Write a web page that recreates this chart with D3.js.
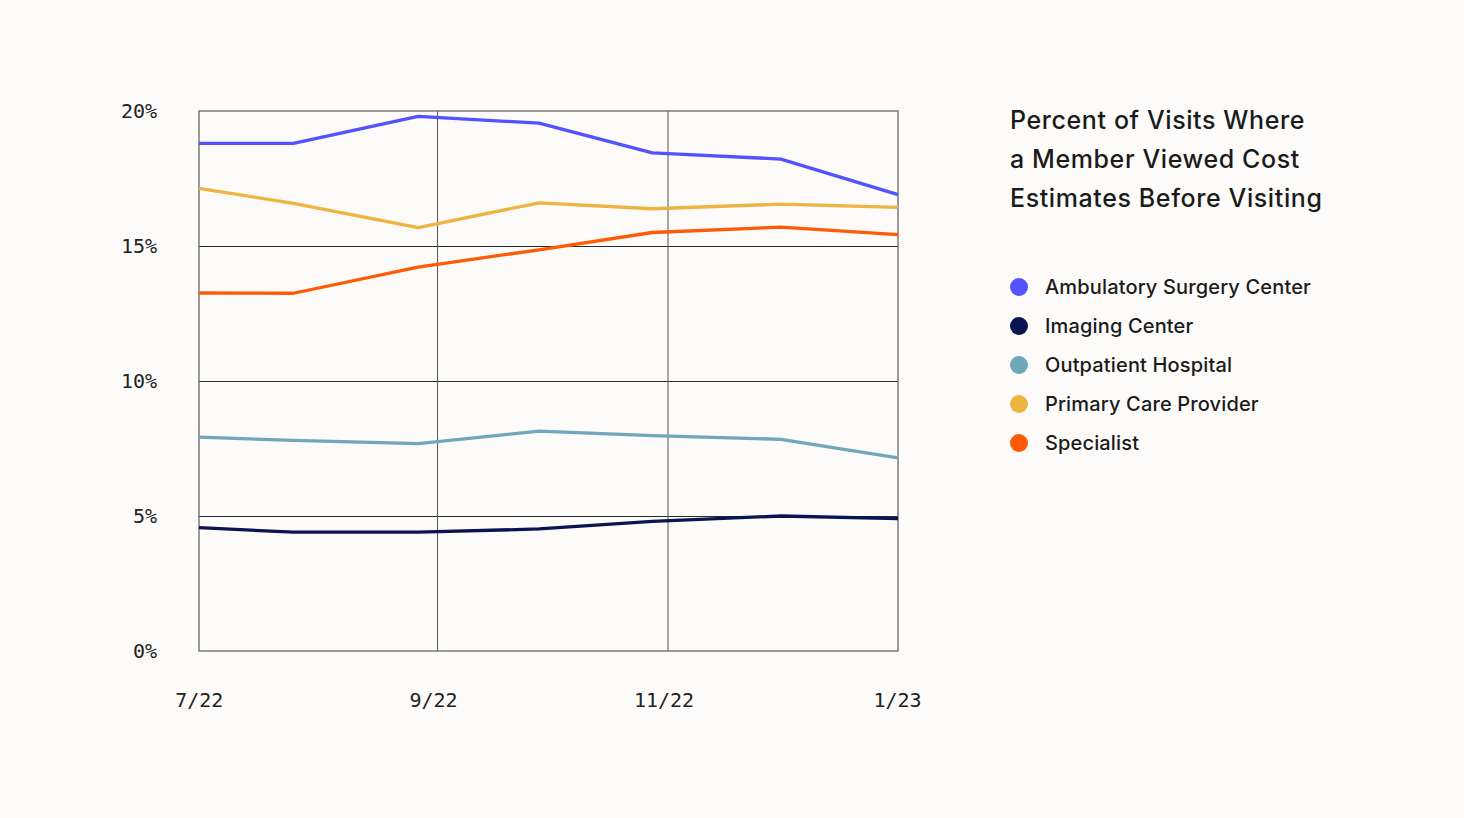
<!DOCTYPE html>
<html>
<head>
<meta charset="utf-8">
<script src="https://cdn.jsdelivr.net/npm/d3@7"></script>
<style>
  body { margin: 0; background: #fcfbf9; }
  #chart { width: 1464px; height: 818px; }
  .tick-label { font-family: "DejaVu Sans Mono", monospace; font-size: 20px; fill: #222; }
  .title { font-family: Inter, "Noto Sans", sans-serif; font-size: 25px; font-weight: 500; fill: #1b1b1b; letter-spacing: 0.6px; }
  .legend-label { font-family: Inter, "Noto Sans", sans-serif; font-size: 20px; font-weight: 500; fill: #1b1b1b; letter-spacing: 0.15px; }
</style>
</head>
<body>
<div id="chart"></div>
<script>
// data (percent of visits)
const dates = ["2022-06-30", "2022-07-25", "2022-08-27", "2022-09-28", "2022-10-28", "2022-12-01", "2023-01-01"];
const seriesNames = ["Ambulatory Surgery Center", "Imaging Center", "Outpatient Hospital", "Primary Care Provider", "Specialist"];
const seriesColors = ["#5252ff", "#0b1452", "#70a7b9", "#edb441", "#ff5a05"];
const ambulatory = [18.8, 18.8, 19.8, 19.55, 18.45, 18.22, 16.9];
const imaging = [4.57, 4.4, 4.4, 4.52, 4.8, 5.0, 4.9];
const outpatient = [7.92, 7.8, 7.68, 8.14, 7.98, 7.84, 7.15];
const primaryCare = [17.13, 16.58, 15.68, 16.6, 16.38, 16.55, 16.43];
const specialist = [13.26, 13.25, 14.22, 14.86, 15.5, 15.7, 15.42];
const yTicks = [0, 5, 10, 15, 20];
const xTickDates = ["2022-07-01", "2022-09-01", "2022-11-01", "2023-01-01"];
const xTickLabels = ["7/22", "9/22", "11/22", "1/23"];
const titleLines = ["Percent of Visits Where", "a Member Viewed Cost", "Estimates Before Visiting"];

const parse = d3.timeParse("%Y-%m-%d");
const allValues = [ambulatory, imaging, outpatient, primaryCare, specialist];

function draw_chart()
{
    const svg = d3.select("#chart").append("svg")
        .attr("width", 1464)
        .attr("height", 818);

    const margin = { top: 111, left: 199 };
    const width = 699, height = 540;

    const x = d3.scaleTime()
        .domain([parse("2022-06-30"), parse("2023-01-01")])
        .range([0, width]);
    const y = d3.scaleLinear()
        .domain([0, 20])
        .range([height, 0]);

    const g = svg.append("g")
        .attr("transform", `translate(${margin.left},${margin.top})`);

    // horizontal grid
    g.append("g")
        .call(d3.axisLeft(y).tickValues(yTicks.slice(1, 4)).tickSize(-width).tickFormat(""))
        .call(a => a.select(".domain").remove())
        .call(a => a.selectAll("line").attr("stroke", "#2a2a2a").attr("stroke-width", 1));

    // vertical grid
    g.append("g")
        .attr("transform", `translate(0,${height})`)
        .call(d3.axisBottom(x).tickValues(xTickDates.slice(1, 3).map(parse)).tickSize(height).tickFormat(""))
        .call(a => a.select(".domain").remove())
        .call(a => a.selectAll("line").attr("stroke", "#555").attr("stroke-width", 1).attr("transform", `translate(0,${-height})`));

    // frame
    g.append("rect")
        .attr("width", width)
        .attr("height", height)
        .attr("fill", "none")
        .attr("stroke", "#666")
        .attr("stroke-width", 1.3);

    // y tick labels
    g.append("g")
        .call(d3.axisLeft(y).tickValues(yTicks).tickSize(0).tickPadding(42).tickFormat(d => d + "%"))
        .call(a => a.select(".domain").remove())
        .call(a => a.selectAll("text").attr("class", "tick-label").attr("dy", "0.32em"));

    // x tick labels
    g.append("g")
        .attr("transform", `translate(0,${height})`)
        .call(d3.axisBottom(x).tickValues(xTickDates.map(parse)).tickSize(0).tickPadding(42).tickFormat((d, i) => xTickLabels[i]))
        .call(a => a.select(".domain").remove())
        .call(a => a.selectAll("text").attr("class", "tick-label").attr("dx", (d, i) => i === 3 ? -1 : -4));

    const line = d3.line()
        .x((d, i) => x(parse(dates[i])))
        .y(d => y(d));

    g.selectAll("path.series")
        .data(allValues)
        .enter().append("path")
        .attr("class", "series")
        .attr("d", line)
        .attr("fill", "none")
        .attr("stroke", (d, i) => seriesColors[i])
        .attr("stroke-width", 3.3)
        .attr("stroke-linejoin", "round");

    // title
    svg.append("text")
        .attr("class", "title")
        .selectAll("tspan")
        .data(titleLines)
        .enter().append("tspan")
        .attr("x", 1010)
        .attr("y", (d, i) => 129 + i * 39)
        .text(d => d);

    // legend
    const legend = svg.append("g")
        .attr("transform", "translate(1019,287)");
    const items = legend.selectAll("g")
        .data(seriesNames)
        .enter().append("g")
        .attr("transform", (d, i) => `translate(0,${i * 39})`);
    items.append("circle")
        .attr("r", 9)
        .attr("fill", (d, i) => seriesColors[i]);
    items.append("text")
        .attr("class", "legend-label")
        .attr("x", 26)
        .attr("dy", "0.35em")
        .text(d => d);
}

draw_chart();
</script>
</body>
</html>
